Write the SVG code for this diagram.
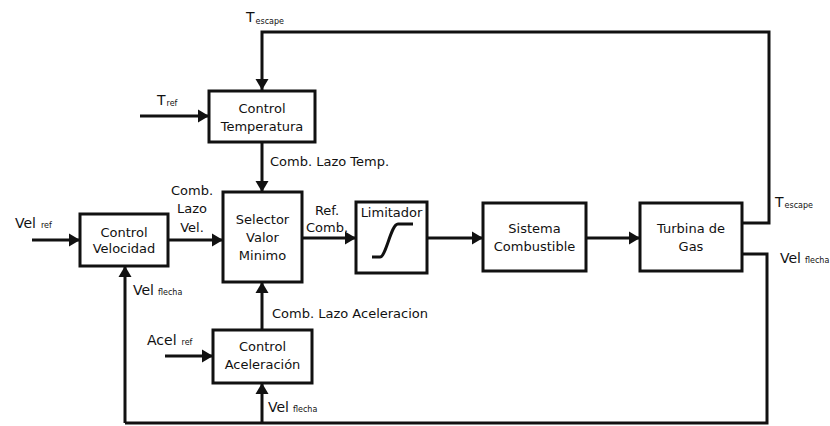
<svg xmlns="http://www.w3.org/2000/svg" width="830" height="426" viewBox="0 0 830 426">
<defs>
<style>
.box{fill:#fff;stroke:#111;stroke-width:3}
.ln{fill:none;stroke:#111;stroke-width:3}
.arr{marker-end:url(#ah)}
text{font-family:"DejaVu Sans","Liberation Sans",sans-serif;fill:#111;font-size:13px}
.c{text-anchor:middle}
.big{font-size:14px}
.sub{font-size:8px}
</style>
<marker id="ah" markerUnits="userSpaceOnUse" markerWidth="12" markerHeight="14" refX="11" refY="7" orient="auto">
<path d="M0,0.5 L11,7 L0,13.5 z" fill="#111"/>
</marker>
</defs>
<rect width="830" height="426" fill="#fff"/>
<g id="connectors">
<path class="ln arr" d="M742,223 H769 V32 H262 V90"/>
<path class="ln" d="M742,254 H767 V423 H125"/>
<path class="ln arr" d="M125,423 V266"/>
<path class="ln arr" d="M262,423 V383"/>
<path class="ln arr" d="M140,116 H209"/>
<path class="ln arr" d="M262,142 V192"/>
<path class="ln arr" d="M32,240 H80"/>
<path class="ln arr" d="M168,240 H223"/>
<path class="ln arr" d="M302,238 H356"/>
<path class="ln arr" d="M427,238 H483"/>
<path class="ln arr" d="M586,238 H640"/>
<path class="ln arr" d="M262,330 V282"/>
<path class="ln arr" d="M165,356 H213"/>
</g>
<g id="ctrl-temp">
<rect class="box" x="209" y="91" width="106" height="51"/>
<text class="c" x="262" y="113">Control</text>
<text class="c" x="262" y="131">Temperatura</text>
</g>
<g id="ctrl-vel">
<rect class="box" x="80" y="214" width="88" height="52"/>
<text class="c" x="124" y="237">Control</text>
<text class="c" x="124" y="253">Velocidad</text>
</g>
<g id="selector">
<rect class="box" x="223" y="192" width="79" height="90"/>
<text class="c" x="262.5" y="224">Selector</text>
<text class="c" x="262.5" y="242">Valor</text>
<text class="c" x="262.5" y="260">Minimo</text>
</g>
<g id="limitador">
<rect class="box" x="356" y="202" width="71" height="71"/>
<text class="c" x="391.5" y="217">Limitador</text>
<path class="ln" d="M372,257 H380 C386,257 391,224 398,224 H413"/>
</g>
<g id="sistema">
<rect class="box" x="483" y="203" width="103" height="68"/>
<text class="c" x="534.5" y="233">Sistema</text>
<text class="c" x="534.5" y="251">Combustible</text>
</g>
<g id="turbina">
<rect class="box" x="640" y="203" width="102" height="68"/>
<text class="c" x="691" y="233">Turbina de</text>
<text class="c" x="691" y="251">Gas</text>
</g>
<g id="ctrl-acel">
<rect class="box" x="213" y="330" width="99" height="53"/>
<text class="c" x="262.5" y="351">Control</text>
<text class="c" x="262.5" y="369">Aceleración</text>
</g>
<g id="labels">
<text x="246" y="22" class="big">T<tspan class="sub" dx="1" dy="2">escape</tspan></text>
<text x="157" y="105" class="big">T<tspan class="sub" dx="1" dy="1">ref</tspan></text>
<text x="270" y="166">Comb. Lazo Temp.</text>
<text class="c" x="192" y="195">Comb.</text>
<text class="c" x="192" y="213">Lazo</text>
<text class="c" x="192" y="232">Vel.</text>
<text class="c" x="327" y="215">Ref.</text>
<text class="c" x="327" y="232">Comb.</text>
<text x="15" y="228" class="big">Vel<tspan class="sub" dx="5">ref</tspan></text>
<text x="133" y="295" class="big">Vel<tspan class="sub" dx="4">flecha</tspan></text>
<text x="272" y="318">Comb. Lazo Aceleracion</text>
<text x="147" y="345" class="big">Acel<tspan class="sub" dx="5">ref</tspan></text>
<text x="268" y="412" class="big">Vel<tspan class="sub" dx="4">flecha</tspan></text>
<text x="775" y="207" class="big">T<tspan class="sub" dx="1" dy="1">escape</tspan></text>
<text x="780" y="263" class="big">Vel<tspan class="sub" dx="4">flecha</tspan></text>
</g>
</svg>
